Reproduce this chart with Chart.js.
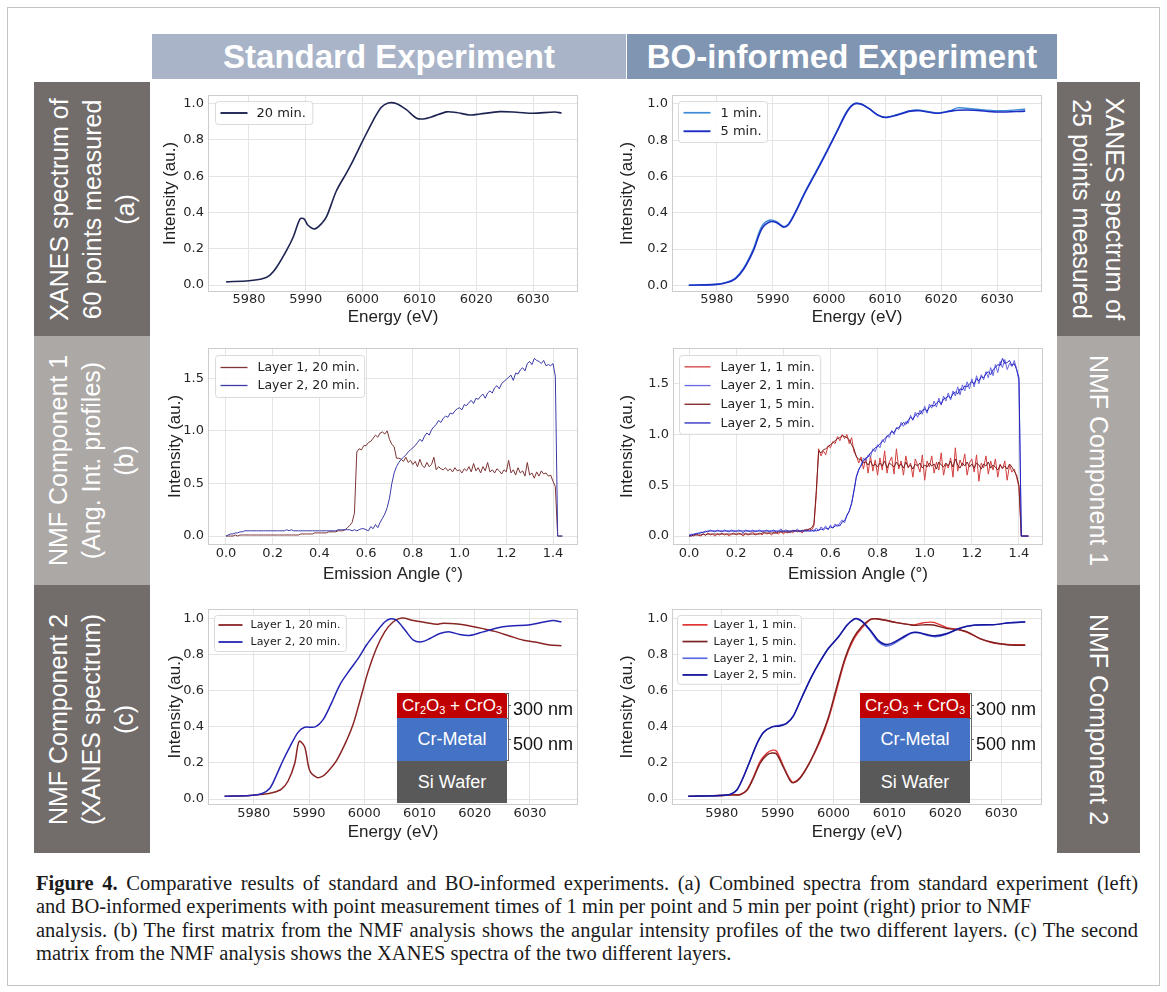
<!DOCTYPE html>
<html><head><meta charset="utf-8">
<script src="https://cdn.jsdelivr.net/npm/chart.js@4/dist/chart.umd.min.js"></script>
<style>
body{margin:0;background:#fff;width:1167px;height:992px;position:relative;overflow:hidden;font-family:"Liberation Sans",Arial,sans-serif}
.abs{position:absolute}
.frame{left:7px;top:7px;width:1153px;height:979px;border:1px solid #c4c4c4;box-sizing:border-box}
.hdr{color:#fff;font-weight:bold;font-size:33px;display:flex;align-items:center;justify-content:center;white-space:nowrap}
.side{display:flex;align-items:center;justify-content:center;overflow:hidden}
.side .t{color:#fff;font-size:25px;line-height:33px;text-align:center;white-space:nowrap;transform:rotate(-90deg)}
.side.r .t{transform:rotate(90deg)}
canvas{position:absolute}
.inset{position:absolute;z-index:5;color:#fff;font-size:18px;text-align:center}
.inset div{display:flex;align-items:center;justify-content:center;white-space:nowrap}
.inset sub{font-size:11px;position:relative;top:4px;vertical-align:baseline;line-height:0}
.nm{position:absolute;z-index:5;font-size:18px;color:#111;white-space:nowrap;line-height:20px}
.br{position:absolute;z-index:5;background:#666}
.cl{position:absolute;left:36px;font-family:"Liberation Serif",serif;font-size:20.5px;color:#1a1a1a;white-space:nowrap;line-height:23px}
.cl.j{width:1102px;white-space:normal;text-align:justify;text-align-last:justify}
</style></head><body>
<div class="abs frame"></div>
<div class="abs hdr" style="left:152px;top:34px;width:474px;height:45px;background:#a9b4c8">Standard Experiment</div>
<div class="abs hdr" style="left:627px;top:34px;width:430px;height:45px;background:#8095b1">BO-informed Experiment</div>

<div class="abs side" style="left:34px;top:82px;width:116px;height:254px;background:#726d6b"><div class="t">XANES spectrum of<br>60 points measured<br>(a)</div></div>
<div class="abs side" style="left:34px;top:336px;width:116px;height:249px;background:#aca8a5"><div class="t">NMF Component 1<br>(Ang. Int. profiles)<br>(b)</div></div>
<div class="abs side" style="left:34px;top:585px;width:116px;height:268px;background:#726d6b"><div class="t">NMF Component 2<br>(XANES spectrum)<br>(c)</div></div>

<div class="abs side r" style="left:1057px;top:82px;width:83px;height:254px;background:#726d6b"><div class="t">XANES spectrum of<br>25 points measured</div></div>
<div class="abs side r" style="left:1057px;top:336px;width:83px;height:249px;background:#aca8a5"><div class="t">NMF Component 1</div></div>
<div class="abs side r" style="left:1057px;top:585px;width:83px;height:268px;background:#726d6b"><div class="t">NMF Component 2</div></div>

<div class="cl j" id="c1" style="top:872px"><b>Figure 4.</b> Comparative results of standard and BO-informed experiments. (a) Combined spectra from standard experiment (left)</div>
<div class="cl" id="c2" style="top:895px">and BO-informed experiments with point measurement times of 1 min per point and 5 min per point (right) prior to NMF</div>
<div class="cl j" id="c3" style="top:919px">analysis. (b) The first matrix from the NMF analysis shows the angular intensity profiles of the two different layers. (c) The second</div>
<div class="cl" id="c4" style="top:942px">matrix from the NMF analysis shows the XANES spectra of the two different layers.</div>

<script>
// ---------------- DATA ----------------
// (a) Standard experiment, 20 min
const energyStd = [5976,5980,5982.5,5983.7,5984.9,5986.6,5987.8,5989.0,5989.7,5990.4,5991.6,5992.8,5993.7,5995.4,5997.2,5998.3,6000.1,6001.9,6003.3,6004.5,6006.0,6007.7,6009.5,6010.7,6012.4,6014.8,6016.5,6018.9,6020.6,6024.1,6027.1,6030.0,6033.8,6035.0];
const xanesStd20 = [0.018,0.024,0.036,0.055,0.10,0.19,0.265,0.365,0.365,0.33,0.31,0.34,0.38,0.52,0.62,0.685,0.80,0.91,0.98,1.004,1.0,0.967,0.92,0.916,0.93,0.955,0.951,0.938,0.943,0.956,0.953,0.947,0.954,0.949];
// (a) BO-informed, 1 min and 5 min
const energyBO = [5975,5980,5981.8,5983.3,5984.8,5986.5,5988,5989.5,5990.7,5991.9,5992.8,5994,5995.8,5997.9,5999.6,6001.4,6003.2,6004.4,6005.6,6007.1,6008.6,6010.1,6012.1,6014.5,6016.3,6019.3,6021.7,6022.9,6025.8,6030,6035];
const xanesBO1 = [0.0,0.006,0.017,0.04,0.096,0.20,0.325,0.36,0.35,0.325,0.34,0.405,0.52,0.64,0.74,0.85,0.96,1.0,1.0,0.975,0.94,0.926,0.94,0.963,0.965,0.95,0.963,0.978,0.972,0.962,0.97];
const xanesBO5 = [0.0,0.005,0.015,0.036,0.09,0.19,0.31,0.35,0.345,0.32,0.335,0.40,0.515,0.635,0.735,0.845,0.955,0.998,1.0,0.975,0.94,0.925,0.938,0.96,0.962,0.948,0.96,0.965,0.965,0.955,0.96];

// (b) Angular intensity profiles
const angles = [0.00,0.01,0.02,0.03,0.04,0.05,0.06,0.07,0.08,0.09,0.10,0.11,0.12,0.13,0.14,0.15,0.16,0.17,0.18,0.19,0.20,0.21,0.22,0.23,0.24,0.25,0.26,0.27,0.28,0.29,0.30,0.31,0.32,0.33,0.34,0.35,0.36,0.37,0.38,0.39,0.40,0.41,0.42,0.43,0.44,0.45,0.46,0.47,0.48,0.49,0.50,0.51,0.52,0.53,0.54,0.55,0.56,0.57,0.58,0.59,0.60,0.61,0.62,0.63,0.64,0.65,0.66,0.67,0.68,0.69,0.70,0.71,0.72,0.73,0.74,0.75,0.76,0.77,0.78,0.79,0.80,0.81,0.82,0.83,0.84,0.85,0.86,0.87,0.88,0.89,0.90,0.91,0.92,0.93,0.94,0.95,0.96,0.97,0.98,0.99,1.00,1.01,1.02,1.03,1.04,1.05,1.06,1.07,1.08,1.09,1.10,1.11,1.12,1.13,1.14,1.15,1.16,1.17,1.18,1.19,1.20,1.21,1.22,1.23,1.24,1.25,1.26,1.27,1.28,1.29,1.30,1.31,1.32,1.33,1.34,1.35,1.36,1.37,1.38,1.39,1.40,1.41,1.42,1.43,1.44];
const angStdL1 = [0.00,0.00,0.00,0.00,0.01,0.00,0.01,0.01,0.01,0.01,
0.01,0.01,0.01,0.01,0.01,0.01,0.01,0.01,0.01,0.01,
0.01,0.01,0.01,0.01,0.01,0.01,0.01,0.01,0.01,0.01,
0.01,0.01,0.02,0.02,0.02,0.02,0.02,0.02,0.03,0.03,
0.03,0.03,0.03,0.03,0.04,0.04,0.04,0.04,0.05,0.05,
0.05,0.06,0.08,0.10,0.13,0.22,0.80,0.83,0.82,0.86,
0.86,0.89,0.90,0.93,0.96,0.94,0.98,0.99,0.97,1.00,
0.92,0.87,0.85,0.74,0.74,0.73,0.71,0.75,0.70,0.72,
0.68,0.71,0.66,0.73,0.67,0.65,0.70,0.66,0.68,0.75,
0.63,0.66,0.64,0.63,0.65,0.62,0.64,0.61,0.65,0.62,
0.63,0.60,0.64,0.62,0.66,0.61,0.69,0.62,0.65,0.60,
0.66,0.62,0.70,0.61,0.63,0.60,0.64,0.62,0.59,0.63,
0.61,0.72,0.60,0.63,0.58,0.65,0.60,0.62,0.57,0.70,
0.58,0.60,0.55,0.61,0.57,0.62,0.59,0.60,0.57,0.58,
0.52,0.47,0.00,0.00,0.00];
const angStdL2 = [0.00,0.01,0.02,0.02,0.03,0.03,0.04,0.04,0.05,0.05,
0.05,0.05,0.05,0.05,0.05,0.05,0.05,0.05,0.05,0.05,
0.05,0.05,0.05,0.05,0.05,0.05,0.06,0.05,0.06,0.05,
0.05,0.05,0.05,0.05,0.05,0.05,0.05,0.05,0.05,0.05,
0.05,0.05,0.05,0.05,0.05,0.05,0.05,0.05,0.06,0.06,
0.06,0.06,0.06,0.06,0.05,0.06,0.05,0.06,0.07,0.07,
0.06,0.05,0.09,0.07,0.11,0.08,0.13,0.17,0.21,0.27,
0.36,0.50,0.60,0.66,0.70,0.73,0.75,0.77,0.80,0.82,
0.84,0.86,0.89,0.92,0.90,0.95,0.98,0.96,1.01,1.04,
1.06,1.10,1.08,1.12,1.14,1.13,1.17,1.16,1.19,1.21,
1.22,1.20,1.25,1.24,1.27,1.29,1.26,1.31,1.30,1.33,
1.35,1.31,1.36,1.38,1.36,1.41,1.43,1.40,1.45,1.47,
1.49,1.51,1.53,1.48,1.55,1.54,1.58,1.60,1.57,1.64,
1.66,1.63,1.69,1.67,1.66,1.64,1.67,1.62,1.63,1.62,
1.64,1.52,0.00,0.00,0.00];
const angBOL1m1 = [0.00,0.01,0.00,0.02,0.01,0.00,0.02,0.01,0.03,0.01,
0.02,0.00,0.02,0.01,0.03,0.01,0.02,0.00,0.02,0.03,
0.01,0.03,0.02,0.00,0.03,0.01,0.02,0.04,0.01,0.02,
0.03,0.01,0.04,0.02,0.03,0.01,0.04,0.03,0.02,0.05,
0.02,0.04,0.03,0.05,0.03,0.06,0.04,0.05,0.03,0.06,
0.05,0.07,0.06,0.10,0.40,0.86,0.79,0.84,0.80,0.89,
0.87,0.93,0.91,0.98,0.94,1.00,0.96,1.00,0.91,0.97,
0.83,0.79,0.72,0.78,0.66,0.77,0.62,0.79,0.64,0.75,
0.60,0.77,0.65,0.84,0.62,0.73,0.78,0.61,0.86,0.66,
0.74,0.60,0.79,0.67,0.72,0.58,0.76,0.70,0.63,0.80,
0.55,0.74,0.68,0.79,0.62,0.73,0.65,0.82,0.60,0.71,
0.67,0.77,0.58,0.87,0.64,0.75,0.69,0.81,0.60,0.72,
0.76,0.63,0.80,0.54,0.72,0.67,0.79,0.61,0.74,0.65,
0.76,0.58,0.71,0.66,0.74,0.55,0.70,0.63,0.66,0.58,
0.48,0.00,0.00,0.00,0.00];
const angBOL2m1 = [0.01,0.02,0.01,0.03,0.02,0.04,0.03,0.05,0.04,0.06,
0.05,0.04,0.06,0.05,0.04,0.06,0.05,0.04,0.06,0.05,
0.04,0.06,0.05,0.03,0.06,0.05,0.04,0.06,0.04,0.05,
0.06,0.04,0.05,0.06,0.04,0.05,0.06,0.04,0.05,0.07,
0.04,0.06,0.05,0.03,0.06,0.05,0.07,0.04,0.06,0.05,
0.07,0.05,0.06,0.04,0.08,0.05,0.09,0.07,0.10,0.06,
0.11,0.08,0.12,0.09,0.13,0.16,0.13,0.21,0.24,0.33,
0.44,0.59,0.66,0.69,0.77,0.74,0.80,0.78,0.86,0.83,
0.90,0.87,0.95,0.92,0.99,0.97,1.04,1.00,1.07,1.05,
1.12,1.08,1.13,1.11,1.19,1.14,1.22,1.17,1.24,1.20,
1.28,1.21,1.30,1.26,1.33,1.27,1.36,1.29,1.38,1.33,
1.41,1.34,1.43,1.38,1.47,1.39,1.49,1.43,1.52,1.45,
1.55,1.47,1.58,1.50,1.59,1.54,1.62,1.56,1.66,1.58,
1.69,1.61,1.72,1.66,1.74,1.64,1.70,1.67,1.73,1.65,
1.52,0.00,0.00,0.00,0.00];
const angBOL1m5 = [0.00,0.00,0.01,0.01,0.01,0.01,0.02,0.01,0.02,0.02,
0.02,0.02,0.02,0.02,0.02,0.02,0.02,0.02,0.02,0.02,
0.02,0.02,0.02,0.02,0.02,0.02,0.02,0.02,0.02,0.02,
0.02,0.03,0.03,0.03,0.03,0.03,0.03,0.03,0.04,0.04,
0.04,0.04,0.04,0.04,0.05,0.05,0.05,0.05,0.05,0.06,
0.06,0.07,0.08,0.12,0.45,0.84,0.82,0.85,0.86,0.88,
0.90,0.92,0.94,0.96,0.97,0.99,0.98,0.97,0.95,0.90,
0.86,0.78,0.76,0.75,0.72,0.73,0.70,0.74,0.69,0.71,
0.68,0.72,0.69,0.74,0.67,0.72,0.70,0.68,0.73,0.69,
0.71,0.67,0.73,0.68,0.70,0.66,0.71,0.69,0.72,0.67,
0.70,0.68,0.72,0.69,0.71,0.66,0.73,0.70,0.68,0.72,
0.69,0.74,0.68,0.76,0.70,0.67,0.72,0.69,0.73,0.68,
0.71,0.67,0.72,0.70,0.66,0.71,0.69,0.73,0.67,0.70,
0.68,0.65,0.70,0.67,0.69,0.66,0.71,0.68,0.64,0.60,
0.50,0.00,0.00,0.00,0.00];
const angBOL2m5 = [0.00,0.01,0.02,0.02,0.03,0.03,0.04,0.04,0.05,0.05,
0.05,0.05,0.05,0.05,0.05,0.05,0.05,0.05,0.05,0.05,
0.05,0.05,0.05,0.05,0.05,0.05,0.05,0.05,0.05,0.05,
0.05,0.05,0.05,0.05,0.05,0.05,0.05,0.05,0.05,0.05,
0.05,0.05,0.05,0.05,0.05,0.05,0.05,0.05,0.05,0.05,
0.05,0.05,0.05,0.06,0.05,0.06,0.07,0.06,0.08,0.07,
0.09,0.08,0.10,0.11,0.10,0.14,0.15,0.20,0.25,0.32,
0.45,0.58,0.65,0.70,0.74,0.77,0.78,0.82,0.84,0.87,
0.88,0.91,0.93,0.96,0.98,1.00,1.03,1.02,1.06,1.07,
1.09,1.12,1.10,1.14,1.17,1.15,1.19,1.21,1.20,1.24,
1.25,1.23,1.27,1.29,1.28,1.31,1.33,1.30,1.35,1.36,
1.38,1.36,1.40,1.42,1.40,1.45,1.44,1.48,1.47,1.50,
1.52,1.50,1.55,1.53,1.57,1.56,1.60,1.62,1.59,1.64,
1.66,1.69,1.68,1.75,1.70,1.71,1.73,1.68,1.70,1.64,
1.56,0.00,0.00,0.00,0.00];

// (c) NMF XANES spectra, standard
const energyStdC1 = [5974.7,5979.3,5981.7,5983.5,5985,5986.2,5987.4,5988.2,5989.2,5990.1,5991.4,5992.3,5993.2,5995,5996.8,5998,5999.2,6000.7,6002.2,6003.7,6005.2,6006.8,6008.9,6011.3,6013.1,6014.3,6017.3,6019.1,6021.5,6024,6026.4,6028.8,6031.2,6033.6,6035.7];
const nmfStdL1 = [0.015,0.02,0.026,0.036,0.055,0.10,0.197,0.32,0.29,0.16,0.12,0.124,0.146,0.215,0.325,0.416,0.544,0.708,0.836,0.927,0.982,1.004,0.99,0.978,0.969,0.975,0.969,0.96,0.945,0.927,0.903,0.881,0.869,0.854,0.85];
const energyStdC2 = [5974.7,5979.3,5981.4,5982.9,5984.1,5985.3,5986.5,5988.0,5989.2,5991.1,5992.6,5994.1,5995.6,5997.4,5998.9,6000.4,6002.2,6003.7,6004.8,6005.9,6007.4,6008.9,6010.4,6011.9,6013.7,6015.5,6017.3,6019.1,6021.5,6024,6026.4,6030,6033,6034.2,6035.7];
const nmfStdL2 = [0.015,0.02,0.029,0.06,0.133,0.215,0.288,0.37,0.398,0.40,0.443,0.535,0.635,0.717,0.78,0.854,0.927,0.982,1.0,0.99,0.936,0.881,0.872,0.89,0.918,0.927,0.912,0.907,0.927,0.949,0.96,0.967,0.985,0.99,0.982];
// (c) NMF XANES spectra, BO-informed
const energyBOC1 = [5974,5979.7,5982.1,5983.3,5984.5,5985.7,5986.9,5988.1,5989,5989.8,5991,5992.2,5992.8,5994,5995.8,5997.6,5999.1,6000.6,6002.1,6003.6,6005.1,6006.6,6007.7,6009.5,6011.3,6013.7,6014.3,6016.1,6017.9,6020.3,6022.1,6023.9,6026.2,6028.6,6031,6034.3];
const nmfBOL1m1 = [0.015,0.02,0.024,0.026,0.05,0.124,0.21,0.255,0.27,0.265,0.185,0.11,0.092,0.118,0.206,0.32,0.445,0.61,0.775,0.885,0.95,0.995,1.0,0.99,0.978,0.967,0.965,0.978,0.98,0.95,0.942,0.925,0.89,0.865,0.858,0.856];
const nmfBOL1m5 = [0.015,0.02,0.023,0.024,0.048,0.118,0.2,0.245,0.255,0.25,0.178,0.104,0.09,0.115,0.206,0.33,0.455,0.625,0.785,0.895,0.958,0.997,1.0,0.99,0.978,0.967,0.963,0.966,0.965,0.945,0.94,0.927,0.89,0.868,0.856,0.852];
const energyBOC2 = [5974,5979.7,5981.5,5982.7,5983.9,5985.1,5986.3,5987.5,5989,5990.4,5991.6,5992.8,5994.3,5996.1,5997.6,5999.1,6000.9,6002.4,6003.6,6004.2,6005.1,6006.6,6008.0,6009.2,6010.4,6012.2,6014,6015.2,6016.7,6018.2,6020.3,6022.7,6025,6028.6,6031.6,6034.3];
const nmfBOL2m1 = [0.015,0.02,0.026,0.05,0.124,0.215,0.307,0.37,0.40,0.41,0.42,0.46,0.562,0.68,0.763,0.836,0.9,0.964,0.996,1.0,0.985,0.93,0.872,0.85,0.855,0.888,0.92,0.922,0.908,0.9,0.915,0.948,0.963,0.967,0.978,0.983];
const nmfBOL2m5 = [0.015,0.02,0.026,0.05,0.124,0.215,0.307,0.37,0.40,0.405,0.42,0.46,0.562,0.68,0.763,0.836,0.9,0.964,0.996,1.0,0.985,0.936,0.88,0.858,0.863,0.894,0.923,0.923,0.912,0.905,0.918,0.949,0.964,0.967,0.978,0.982];

// tick values
const energyTicks = [5980,5990,6000,6010,6020,6030];
const angleTicks = [0.0,0.2,0.4,0.6,0.8,1.0,1.2,1.4];
const xanesYTicks = [0.0,0.2,0.4,0.6,0.8,1.0];
const angYTicks = [0.0,0.5,1.0,1.5];
const titleEnergy = 'Energy (eV)', titleAngle = 'Emission Angle (°)', titleY = 'Intensity (au.)';

// ---------------- RENDER ----------------
Chart.defaults.font.family = '"DejaVu Sans", sans-serif';
const pts = (xs, ys) => xs.map((x, i) => ({x: x, y: ys[i]}));
const ds = (label, xs, ys, color, w, tension, idx) => ({label, data: pts(xs, ys), borderColor: color, borderWidth: w, tension, pointRadius: 0, fill: false, order: -idx});

const framePlugin = {id: 'frame', beforeDatasetsDraw(chart) {
  const a = chart.chartArea, c = chart.ctx;
  c.save(); c.strokeStyle = '#cdcdcd'; c.lineWidth = 1;
  c.strokeRect(Math.round(a.left) + 0.5, Math.round(a.top) + 0.5, Math.round(a.right - a.left) - 1, Math.round(a.bottom - a.top) - 1);
  c.restore();
}};
const legendPlugin = {id: 'boxLegend', afterDatasetsDraw(chart, args, o) {
  const c = chart.ctx, a = chart.chartArea, sets = chart.data.datasets;
  c.save();
  c.font = o.size + 'px "DejaVu Sans"';
  const tw = Math.max(...sets.map(d => c.measureText(d.label).width));
  const x0 = Math.round(a.left + o.dx) + 0.5, y0 = Math.round(a.top + o.dy) + 0.5;
  const w = o.padL + o.lineLen + o.gap + tw + o.padR, h = o.padT + sets.length * o.rowH + o.padB;
  c.beginPath(); c.roundRect(x0, y0, w, h, 3);
  c.fillStyle = 'rgba(255,255,255,0.85)'; c.fill();
  c.strokeStyle = '#dadada'; c.lineWidth = 1; c.stroke();
  sets.forEach((d, i) => {
    const y = y0 + o.padT + i * o.rowH + o.rowH / 2;
    c.beginPath(); c.moveTo(x0 + o.padL, y); c.lineTo(x0 + o.padL + o.lineLen, y);
    c.strokeStyle = d.borderColor; c.lineWidth = d.borderWidth + 0.3; c.stroke();
    c.fillStyle = '#222'; c.textBaseline = 'middle'; c.textAlign = 'left';
    c.fillText(d.label, x0 + o.padL + o.lineLen + o.gap, y + 0.5);
  });
  c.restore();
}};

function makeChart(s) {
  const PT = 10, PR = 8;
  const cv = document.createElement('canvas');
  const L = s.plot[0] - s.yw, T = s.plot[1] - PT;
  const W = s.plot[2] - L + PR, H = s.plot[3] - T + s.xh;
  cv.width = W; cv.height = H;
  Object.assign(cv.style, {left: L + 'px', top: T + 'px', width: W + 'px', height: H + 'px'});
  document.body.appendChild(cv);
  const tickFont = {size: 13, family: '"DejaVu Sans"'};
  const titleFont = {size: 17, family: '"Liberation Sans"'};
  new Chart(cv, {
    type: 'line',
    data: {datasets: s.datasets},
    options: {
      responsive: false, animation: false, devicePixelRatio: 1,
      layout: {padding: {left: 0, top: PT, right: PR, bottom: 0}},
      plugins: {legend: {display: false}, tooltip: {enabled: false}, boxLegend: s.legend},
      scales: {
        x: {type: 'linear', min: s.xr[0], max: s.xr[1],
          afterBuildTicks: ax => { ax.ticks = s.xt.map(v => ({value: v})); },
          afterFit: ax => { ax.height = s.xh; },
          grid: {color: '#e4e4e4', drawTicks: false}, border: {display: false},
          ticks: {padding: s.xpad, color: '#262626', font: tickFont, maxRotation: 0, autoSkip: false, callback: s.xfmt},
          title: {display: true, text: s.xTitle, padding: 0, color: '#222', font: titleFont}},
        y: {type: 'linear', min: s.yr[0], max: s.yr[1],
          afterBuildTicks: ax => { ax.ticks = s.yt.map(v => ({value: v})); },
          afterFit: ax => { ax.width = s.yw; },
          grid: {color: '#e4e4e4', drawTicks: false}, border: {display: false},
          ticks: {padding: 4, color: '#262626', font: tickFont, autoSkip: false, callback: v => v.toFixed(1)},
          title: {display: true, text: titleY, padding: 0, color: '#222', font: titleFont}}
      }
    },
    plugins: [framePlugin, legendPlugin]
  });
}
const eFmt = v => String(v), aFmt = v => v.toFixed(1);

// (a) left
makeChart({plot: [208, 93, 578, 292], yw: 48, xh: 36, xpad: 0, xr: [5972.8, 6037.9], yr: [-0.038, 1.049],
  xt: energyTicks, yt: xanesYTicks, xfmt: eFmt, xTitle: titleEnergy,
  datasets: [ds('20 min.', energyStd, xanesStd20, '#1d2452', 1.6, 0.3, 0)],
  legend: {size: 13, dx: 7, dy: 6, padL: 5, lineLen: 27, gap: 9, padR: 7, padT: 3, padB: 3, rowH: 17}});
// (a) right
makeChart({plot: [672, 93, 1042, 292], yw: 55, xh: 36, xpad: 0, xr: [5972, 6038], yr: [-0.037, 1.05],
  xt: energyTicks, yt: xanesYTicks, xfmt: eFmt, xTitle: titleEnergy,
  datasets: [ds('1 min.', energyBO, xanesBO1, '#3d8bd4', 1.4, 0.3, 0), ds('5 min.', energyBO, xanesBO5, '#1c2ec4', 1.6, 0.3, 1)],
  legend: {size: 13, dx: 6, dy: 6, padL: 5, lineLen: 27, gap: 10, padR: 6, padT: 2, padB: 2, rowH: 18.5}});
// (b) left
makeChart({plot: [208, 346, 578, 545], yw: 43, xh: 40, xpad: 1, xr: [-0.077, 1.507], yr: [-0.085, 1.79],
  xt: angleTicks, yt: angYTicks, xfmt: aFmt, xTitle: titleAngle,
  datasets: [ds('Layer 1, 20 min.', angles, angStdL1, '#7d3535', 1.0, 0, 0), ds('Layer 2, 20 min.', angles, angStdL2, '#3a3aa8', 1.0, 0, 1)],
  legend: {size: 12.5, dx: 7, dy: 7, padL: 5, lineLen: 27, gap: 10, padR: 5, padT: 3, padB: 3, rowH: 18}});
// (b) right
makeChart({plot: [673, 346, 1043, 545], yw: 56, xh: 40, xpad: 1, xr: [-0.068, 1.502], yr: [-0.088, 1.855],
  xt: angleTicks, yt: angYTicks, xfmt: aFmt, xTitle: titleAngle,
  datasets: [ds('Layer 1, 1 min.', angles, angBOL1m1, '#d33f3f', 1.0, 0, 0), ds('Layer 2, 1 min.', angles, angBOL2m1, '#6767df', 1.0, 0, 1),
             ds('Layer 1, 5 min.', angles, angBOL1m5, '#7a1f1f', 1.0, 0, 2), ds('Layer 2, 5 min.', angles, angBOL2m5, '#2424c2', 1.0, 0, 3)],
  legend: {size: 12.5, dx: 6, dy: 7, padL: 5, lineLen: 26, gap: 10, padR: 6, padT: 2, padB: 2, rowH: 18.7}});
// (c) left
makeChart({plot: [208, 607, 578, 805], yw: 43, xh: 38, xpad: 1, xr: [5971.7, 6038.7], yr: [-0.033, 1.055],
  xt: energyTicks, yt: xanesYTicks, xfmt: eFmt, xTitle: titleEnergy,
  datasets: [ds('Layer 1, 20 min.', energyStdC1, nmfStdL1, '#8a2525', 1.5, 0.3, 0), ds('Layer 2, 20 min.', energyStdC2, nmfStdL2, '#2424b4', 1.5, 0.3, 1)],
  legend: {size: 11, dx: 6, dy: 6, padL: 4, lineLen: 24, gap: 8, padR: 6, padT: 1, padB: 1, rowH: 17}});
// (c) right
makeChart({plot: [672, 607, 1042, 805], yw: 55, xh: 38, xpad: 1, xr: [5971.1, 6037.3], yr: [-0.033, 1.055],
  xt: energyTicks, yt: xanesYTicks, xfmt: eFmt, xTitle: titleEnergy,
  datasets: [ds('Layer 1, 1 min.', energyBOC1, nmfBOL1m1, '#e23434', 1.4, 0.3, 0), ds('Layer 1, 5 min.', energyBOC1, nmfBOL1m5, '#7d2222', 1.4, 0.3, 1),
             ds('Layer 2, 1 min.', energyBOC2, nmfBOL2m1, '#5a6be3', 1.4, 0.3, 2), ds('Layer 2, 5 min.', energyBOC2, nmfBOL2m5, '#16169c', 1.5, 0.3, 3)],
  legend: {size: 11, dx: 5, dy: 6, padL: 5, lineLen: 25, gap: 6, padR: 5, padT: 1, padB: 1, rowH: 16.7}});

// layer-stack insets (schematic, not data)
function inset(x) {
  const box = document.createElement('div');
  box.className = 'inset';
  Object.assign(box.style, {left: x + 'px', top: '693px', width: '110px'});
  box.innerHTML = '<div style="height:25px;background:#c00000;font-size:17px">Cr<sub>2</sub>O<sub>3</sub>&nbsp;+&nbsp;CrO<sub>3</sub></div>' +
    '<div style="height:43px;background:#4472c4">Cr-Metal</div>' +
    '<div style="height:42px;background:#595959">Si Wafer</div>';
  document.body.appendChild(box);
  const bx = x + 111;
  const add = (l, t, w, h) => { const d = document.createElement('div'); d.className = 'br'; Object.assign(d.style, {left: l + 'px', top: t + 'px', width: w + 'px', height: h + 'px'}); document.body.appendChild(d); };
  add(bx, 693, 1, 68); add(bx - 3, 693, 3, 1); add(bx - 3, 718, 3, 1); add(bx - 3, 760, 3, 1);
  add(bx + 1, 705, 2, 1); add(bx + 1, 739, 2, 1);
  const lab = (t, y) => { const d = document.createElement('div'); d.className = 'nm'; d.textContent = t; Object.assign(d.style, {left: (bx + 5) + 'px', top: y + 'px'}); document.body.appendChild(d); };
  lab('300 nm', 699); lab('500 nm', 734);
}
inset(397); inset(860);
</script>
</body></html>
